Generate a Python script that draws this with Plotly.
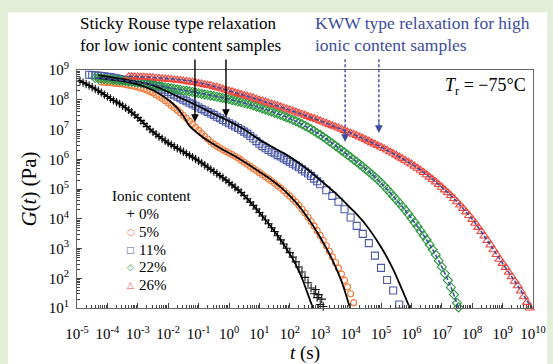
import plotly.graph_objects as go

# ---------------- data (log10 t [s], log10 G [Pa]) ----------------
logt_0 = [-4.9,-4.8,-4.7,-4.6,-4.5,-4.4,-4.3,-4.2,-4.1,-4.0,-3.9,-3.8,-3.7,-3.6,-3.5,-3.4,-3.3,-3.2,-3.1,-3.0,
          -2.9,-2.8,-2.7,-2.6,-2.5,-2.4,-2.3,-2.2,-2.1,-2.0,-1.9,-1.8,-1.7,-1.6,-1.5,-1.4,-1.3,-1.2,-1.1,-1.0,
          -0.9,-0.8,-0.7,-0.6,-0.5,-0.4,-0.3,-0.2,-0.1,0.0,0.1,0.2,0.3,0.4,0.5,0.6,0.7,0.8,0.9,1.0,
          1.1,1.2,1.3,1.4,1.5,1.6,1.7,1.8,1.9,2.0,2.1,2.2,2.3,2.4,2.5,2.6,2.7,2.8,2.85,2.9,2.95,3.0,3.05,3.1]
logG_0 = [8.63,8.58,8.53,8.48,8.42,8.36,8.30,8.24,8.17,8.11,8.04,7.98,7.92,7.86,7.80,7.73,7.66,7.58,7.49,7.40,
          7.30,7.20,7.10,7.01,6.92,6.84,6.76,6.69,6.62,6.55,6.49,6.43,6.37,6.31,6.25,6.19,6.13,6.07,6.01,5.94,
          5.87,5.80,5.73,5.66,5.59,5.52,5.45,5.38,5.30,5.22,5.14,5.06,4.97,4.88,4.78,4.67,4.56,4.45,4.33,4.21,
          4.09,3.96,3.83,3.70,3.57,3.43,3.29,3.15,3.01,2.86,2.71,2.55,2.38,2.21,2.03,1.85,1.67,1.48,1.62,1.35,1.45,1.12,1.30,1.05]
fit_t_0 = [-4.95,-4.5,-4.0,-3.5,-3.0,-2.5,-2.0,-1.5,-1.0,-0.5,0.0,0.5,1.0,1.5,2.0,2.2,2.4,2.6,2.76]
fit_G_0 = [8.66,8.42,8.11,7.80,7.40,6.92,6.55,6.25,5.94,5.59,5.22,4.78,4.21,3.57,2.82,2.45,2.0,1.45,1.0]

logt_5 = [-4.2,-4.1,-4.0,-3.9,-3.8,-3.7,-3.6,-3.5,-3.4,-3.3,-3.2,-3.1,-3.0,-2.9,-2.8,-2.7,-2.6,-2.5,-2.4,-2.3,
          -2.2,-2.1,-2.0,-1.9,-1.8,-1.7,-1.6,-1.5,-1.4,-1.3,-1.2,-1.1,-1.0,-0.9,-0.8,-0.7,-0.6,-0.5,-0.4,-0.3,
          -0.2,-0.1,0.0,0.1,0.2,0.3,0.4,0.5,0.6,0.7,0.8,0.9,1.0,1.1,1.2,1.3,1.4,1.5,1.6,1.7,
          1.8,1.9,2.0,2.1,2.2,2.3,2.4,2.5,2.6,2.7,2.8,2.9,3.0,3.1,3.2,3.3,3.4,3.5,3.6,3.7,3.8,3.9,4.0,4.1]
logG_5 = [8.60,8.59,8.58,8.57,8.56,8.55,8.54,8.53,8.51,8.49,8.47,8.45,8.42,8.39,8.36,8.32,8.28,8.23,8.17,8.11,
          8.04,7.97,7.89,7.81,7.73,7.65,7.56,7.47,7.38,7.28,7.18,7.07,6.97,6.87,6.77,6.68,6.59,6.51,6.44,6.38,
          6.32,6.26,6.21,6.16,6.10,6.04,5.97,5.90,5.83,5.76,5.69,5.62,5.55,5.48,5.41,5.34,5.27,5.19,5.11,5.03,
          4.94,4.85,4.76,4.66,4.56,4.45,4.32,4.19,4.05,3.91,3.76,3.60,3.44,3.27,3.09,2.91,2.72,2.53,2.34,2.14,1.93,1.71,1.48,1.18]
fit_t_5 = [-4.3,-3.5,-3.0,-2.5,-2.0,-1.7,-1.5,-1.3,-1.0,-0.6,-0.2,0.2,0.6,1.0,1.4,1.8,2.2,2.6,3.0,3.4,3.7,3.98]
fit_G_5 = [8.73,8.63,8.52,8.32,8.00,7.72,7.45,7.12,6.85,6.56,6.32,6.10,5.85,5.58,5.30,4.97,4.55,4.02,3.38,2.62,1.90,1.0]

logt_11 = [-4.6,-4.5,-4.4,-4.3,-4.2,-4.1,-4.0,-3.9,-3.8,-3.7,-3.6,-3.5,-3.4,-3.3,-3.2,-3.1,-3.0,-2.9,-2.8,-2.7,
           -2.6,-2.5,-2.4,-2.3,-2.2,-2.1,-2.0,-1.9,-1.8,-1.7,-1.6,-1.5,-1.4,-1.3,-1.2,-1.1,-1.0,-0.9,-0.8,-0.7,
           -0.6,-0.5,-0.4,-0.3,-0.2,-0.1,0.0,0.1,0.2,0.3,0.4,0.5,0.6,0.7,0.8,0.9,1.0,1.1,1.2,1.3,
           1.4,1.5,1.6,1.7,1.8,1.9,2.0,2.1,2.2,2.3,2.4,2.5,2.6,2.7,2.8,2.9,3.0,3.2,3.4,3.6,
           3.8,4.0,4.2,4.4,4.6,4.8,5.0,5.2,5.4,5.6]
logG_11 = [8.84,8.83,8.82,8.81,8.80,8.79,8.77,8.76,8.74,8.72,8.70,8.68,8.66,8.65,8.63,8.62,8.60,8.58,8.56,8.54,
           8.52,8.49,8.46,8.42,8.37,8.32,8.26,8.20,8.15,8.10,8.05,8.00,7.95,7.90,7.85,7.80,7.74,7.69,7.64,7.59,
           7.54,7.49,7.43,7.38,7.32,7.27,7.21,7.16,7.10,7.05,6.99,6.93,6.86,6.78,6.70,6.61,6.52,6.44,6.37,6.31,
           6.25,6.20,6.14,6.09,6.03,5.97,5.91,5.85,5.79,5.73,5.66,5.59,5.52,5.44,5.35,5.26,5.16,4.96,4.77,4.57,
           4.32,4.04,3.76,3.49,3.18,2.76,2.35,1.94,1.59,1.12]
fit_t_11 = [-4.3,-3.5,-3.0,-2.5,-2.0,-1.5,-1.0,-0.5,0.0,0.5,1.0,1.5,2.0,2.5,3.0,3.5,4.0,4.5,5.0,5.4,5.7,5.95]
fit_G_11 = [8.83,8.69,8.60,8.48,8.26,8.02,7.78,7.52,7.28,7.00,6.66,6.37,6.08,5.72,5.30,4.86,4.36,3.80,3.05,2.30,1.60,1.0]

logt_22 = [-4.4,-4.3,-4.2,-4.1,-4.0,-3.9,-3.8,-3.7,-3.6,-3.5,-3.4,-3.3,-3.2,-3.1,-3.0,-2.9,-2.8,-2.7,-2.6,-2.5,
           -2.4,-2.3,-2.2,-2.1,-2.0,-1.9,-1.8,-1.7,-1.6,-1.5,-1.4,-1.3,-1.2,-1.1,-1.0,-0.9,-0.8,-0.7,-0.6,-0.5,
           -0.4,-0.3,-0.2,-0.1,0.0,0.1,0.2,0.3,0.4,0.5,0.6,0.7,0.8,0.9,1.0,1.1,1.2,1.3,1.4,1.5,
           1.6,1.7,1.8,1.9,2.0,2.1,2.2,2.3,2.4,2.5,2.6,2.7,2.8,2.9,3.0,3.1,3.2,3.3,3.4,3.5,
           3.6,3.7,3.8,3.9,4.0,4.1,4.2,4.3,4.4,4.5,4.6,4.7,4.8,4.9,5.0,5.1,5.2,5.3,5.4,5.5,
           5.6,5.7,5.8,5.9,6.0,6.1,6.2,6.3,6.4,6.5,6.6,6.7,6.8,6.9,7.0,7.1,7.2,7.3,7.4,7.5,7.55]
logG_22 = [8.73,8.72,8.71,8.70,8.69,8.68,8.67,8.66,8.65,8.64,8.63,8.62,8.61,8.60,8.58,8.57,8.56,8.54,8.52,8.50,
           8.48,8.46,8.44,8.42,8.40,8.38,8.37,8.35,8.33,8.31,8.30,8.28,8.26,8.24,8.22,8.20,8.18,8.16,8.14,8.12,
           8.10,8.08,8.06,8.04,8.02,7.99,7.97,7.94,7.92,7.89,7.87,7.84,7.81,7.77,7.74,7.70,7.67,7.63,7.60,7.56,
           7.53,7.49,7.45,7.41,7.37,7.32,7.28,7.23,7.18,7.12,7.07,7.01,6.95,6.88,6.82,6.75,6.68,6.60,6.53,6.45,
           6.38,6.30,6.23,6.15,6.07,5.99,5.91,5.83,5.75,5.66,5.58,5.49,5.40,5.31,5.21,5.10,4.99,4.88,4.76,4.65,
           4.53,4.41,4.29,4.16,4.02,3.88,3.74,3.59,3.44,3.29,3.13,2.96,2.79,2.59,2.38,2.16,1.93,1.69,1.45,1.17,1.02]
fit_t_22 = [-4.4,-3.0,-2.0,-1.0,0.0,1.0,2.0,3.0,3.6,4.2,4.8,5.4,6.0,6.6,7.0,7.3,7.55]
fit_G_22 = [8.74,8.59,8.41,8.23,8.02,7.74,7.37,6.82,6.38,5.91,5.40,4.76,4.02,3.13,2.38,1.70,1.0]

logt_26 = [-3.3,-3.2,-3.1,-3.0,-2.9,-2.8,-2.7,-2.6,-2.5,-2.4,-2.3,-2.2,-2.1,-2.0,-1.9,-1.8,-1.7,-1.6,-1.5,-1.4,
           -1.3,-1.2,-1.1,-1.0,-0.9,-0.8,-0.7,-0.6,-0.5,-0.4,-0.3,-0.2,-0.1,0.0,0.1,0.2,0.3,0.4,0.5,0.6,
           0.7,0.8,0.9,1.0,1.1,1.2,1.3,1.4,1.5,1.6,1.7,1.8,1.9,2.0,2.1,2.2,2.3,2.4,2.5,2.6,
           2.7,2.8,2.9,3.0,3.1,3.2,3.3,3.4,3.5,3.6,3.7,3.8,3.9,4.0,4.1,4.2,4.3,4.4,4.5,4.6,
           4.7,4.8,4.9,5.0,5.1,5.2,5.3,5.4,5.5,5.6,5.7,5.8,5.9,6.0,6.1,6.2,6.3,6.4,6.5,6.6,
           6.7,6.8,6.9,7.0,7.1,7.2,7.3,7.4,7.5,7.6,7.7,7.8,7.9,8.0,8.1,8.2,8.3,8.4,8.5,8.6,
           8.7,8.8,8.9,9.0,9.1,9.2,9.3,9.4,9.5,9.6,9.7,9.8,9.9]
logG_26 = [8.78,8.78,8.77,8.77,8.76,8.76,8.75,8.75,8.74,8.73,8.72,8.71,8.70,8.69,8.68,8.67,8.66,8.65,8.63,8.62,
           8.60,8.59,8.57,8.55,8.53,8.51,8.49,8.47,8.44,8.42,8.39,8.36,8.33,8.30,8.27,8.24,8.21,8.18,8.15,8.12,
           8.09,8.06,8.02,7.99,7.96,7.93,7.89,7.86,7.83,7.80,7.76,7.73,7.69,7.66,7.62,7.59,7.55,7.52,7.48,7.44,
           7.40,7.37,7.33,7.29,7.25,7.21,7.17,7.13,7.09,7.05,7.01,6.97,6.92,6.88,6.84,6.80,6.75,6.71,6.66,6.61,
           6.56,6.51,6.46,6.41,6.36,6.31,6.25,6.20,6.14,6.08,6.02,5.96,5.90,5.84,5.77,5.70,5.63,5.56,5.48,5.40,
           5.32,5.24,5.15,5.06,4.97,4.88,4.78,4.68,4.57,4.46,4.35,4.23,4.11,3.98,3.85,3.71,3.57,3.42,3.27,3.12,
           2.96,2.80,2.64,2.50,2.36,2.20,2.05,1.90,1.75,1.57,1.38,1.19,1.00]
fit_t_26 = [-3.3,-2.0,-1.0,0.0,1.0,2.0,3.0,4.0,5.0,6.0,6.5,7.0,7.5,8.0,8.5,9.0,9.5,9.95]
fit_G_26 = [8.79,8.71,8.58,8.30,7.99,7.65,7.29,6.88,6.41,5.84,5.48,5.06,4.57,3.98,3.27,2.50,1.75,1.0]

x_tick_exp = list(range(-5, 11))
y_tick_exp = list(range(1, 10))

labels = ["0%", "5%", "11%", "22%", "26%"]
colors = ["#111111", "#f47a3a", "#4b5aa8", "#2e9a40", "#f0463c"]
symbols = ["cross-thin-open", "circle-open", "square-open", "diamond-open", "triangle-up-open"]
sizes = [6, 6, 7, 7, 8]
legend_glyphs = ["+", "○", "□", "◇", "△"]

FONT = "Liberation Serif, Times New Roman, serif"
BLUE = "#3d4c9e"

p10 = lambda arr: [10 ** v for v in arr]

fig = go.Figure()
data_sets = [(logt_0, logG_0), (logt_5, logG_5), (logt_11, logG_11), (logt_22, logG_22), (logt_26, logG_26)]
for (lt, lg), name, c, s, sz in zip(data_sets, labels, colors, symbols, sizes):
    fig.add_trace(go.Scatter(x=p10(lt), y=p10(lg), mode="markers", name=name, showlegend=False,
                             cliponaxis=False,
                             marker=dict(symbol=s, size=sz, color=c, line=dict(color=c, width=1.1))))

for ft, fg in [(fit_t_0, fit_G_0), (fit_t_5, fit_G_5), (fit_t_11, fit_G_11)]:
    fig.add_trace(go.Scatter(x=p10(ft), y=p10(fg), mode="lines", showlegend=False,
                             line=dict(color="black", width=1.8, shape="spline")))
for ft, fg in [(fit_t_22, fit_G_22), (fit_t_26, fit_G_26)]:
    fig.add_trace(go.Scatter(x=p10(ft), y=p10(fg), mode="lines", showlegend=False,
                             line=dict(color=BLUE, width=1.6, dash="4px,2px", shape="spline")))

axis_common = dict(type="log", showgrid=False, zeroline=False, showline=True, linecolor="#666666",
                   linewidth=1, mirror=True, ticks="inside", ticklen=5, tickcolor="#444444",
                   automargin=False,
                   tickfont=dict(family=FONT, size=15, color="black"),
                   minor=dict(ticks="inside", ticklen=3, dtick="D1", tickcolor="#444444", showgrid=False))

fig.update_layout(
    width=553, height=364,
    margin=dict(l=77, r=20, t=70, b=56),
    paper_bgcolor="#e2eed8", plot_bgcolor="white",
    font=dict(family=FONT, color="black"),
    xaxis=dict(axis_common, range=[-5, 10], tickmode="array",
               tickvals=[10 ** k for k in x_tick_exp],
               ticktext=[f"10<sup>{k}</sup>" for k in x_tick_exp],
               ticklabelstandoff=12,
               title=dict(text="<i>t</i> (s)", font=dict(family=FONT, size=19), standoff=0)),
    yaxis=dict(axis_common, range=[1, 9], tickmode="array",
               tickvals=[10 ** k for k in y_tick_exp],
               ticktext=[f"10<sup>{k}</sup>" for k in y_tick_exp],
               ticklabelstandoff=4,
               title=dict(text="<i>G</i>(<i>t</i>) (Pa)", font=dict(family=FONT, size=21), standoff=6)),
)

# white panel behind the chart
fig.add_shape(type="rect", xref="paper", yref="paper", x0=-0.151, x1=1.031, y0=-0.4, y1=1.242,
              fillcolor="white", line=dict(width=0), layer="below")

ann = []
def txt(text, x, y, size, color="black", xanchor="left"):
    ann.append(dict(text=text, x=x, y=y, xref="paper", yref="paper", xanchor=xanchor, yanchor="middle",
                    showarrow=False, font=dict(family=FONT, size=size, color=color)))

txt("Sticky Rouse type relaxation", 0.002, 1.196, 17)
txt("for low ionic content samples", 0.002, 1.103, 17)
txt("KWW type relaxation for high", 0.518, 1.196, 17.5, BLUE)
txt("ionic content samples", 0.518, 1.103, 17.5, BLUE)
txt("<i>T</i><sub>r</sub> = −75°C", 0.989, 0.929, 18, xanchor="right")

# legend
txt("Ionic content", 0.072, 0.471, 15)
row_y = [0.395, 0.319, 0.244, 0.172, 0.097]
for g, lab, c, yy in zip(legend_glyphs, labels, colors, row_y):
    ann.append(dict(text=g, x=0.118, y=yy, xref="paper", yref="paper", xanchor="center", yanchor="middle",
                    showarrow=False, font=dict(family="DejaVu Sans", size=9 if g != "+" else 11, color=c)))
    txt(lab, 0.132, yy, 15)

# black solid arrows (sticky Rouse)
for ax_t, ax_g, ay in [(-1.12, 7.25, -64), (-0.10, 7.42, -59)]:
    ann.append(dict(x=ax_t, y=ax_g, xref="x", yref="y", text="", showarrow=True, ax=0, ay=ay,
                    arrowhead=2, arrowsize=1.1, arrowwidth=1.4, arrowcolor="black"))

# blue dashed arrows (KWW)
for ax_t, ax_g in [(3.82, 6.58), (4.93, 6.88)]:
    fig.add_shape(type="line", xref="x", yref="paper", x0=10 ** ax_t, x1=10 ** ax_t, y0=1.045,
                  y1=(ax_g - 1) / 8 + 0.04, line=dict(color=BLUE, width=1.4, dash="3px,2px"))
    ann.append(dict(x=ax_t, y=ax_g, xref="x", yref="y", text="", showarrow=True, ax=0, ay=-12,
                    arrowhead=2, arrowsize=1.1, arrowwidth=1.4, arrowcolor=BLUE))

fig.update_layout(annotations=ann)
fig.write_html("out.html")
